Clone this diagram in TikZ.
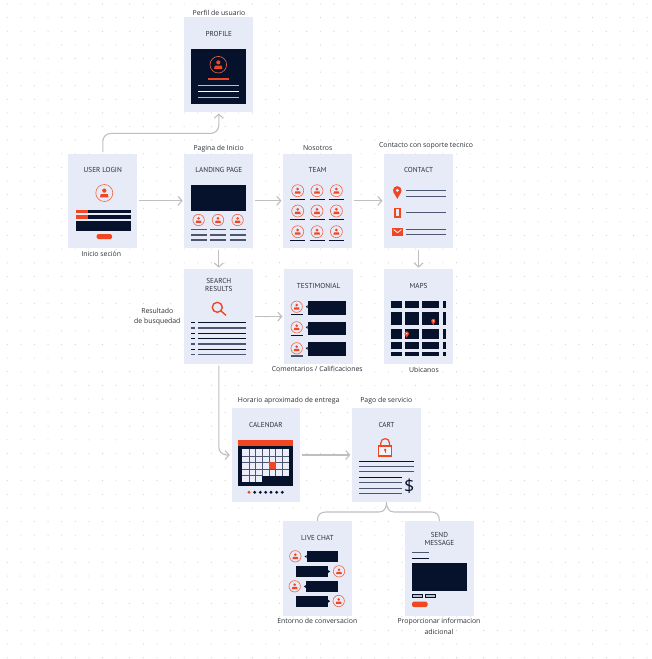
\documentclass[tikz,border=0pt]{standalone}
\usepackage{fontspec}
\setmainfont{Open Sans}
\newfontfamily\titlefont{PT Sans}
\usetikzlibrary{arrows.meta}
\definecolor{cardblue}{HTML}{E7EBF8}
\definecolor{ink}{HTML}{06122B}
\definecolor{accent}{HTML}{F04722}
\definecolor{slate}{HTML}{4D5670}
\definecolor{linkgray}{HTML}{BFBFC1}
\definecolor{griddot}{HTML}{CDCDCD}
\definecolor{labeltext}{HTML}{2E3038}
\tikzset{
  card/.style={fill=cardblue, minimum width=68.8pt, minimum height=94.4pt, inner sep=0pt},
  cardtitle/.style={text=labeltext, align=center, inner sep=0pt, font=\titlefont\fontsize{7.2}{7.8}\selectfont},
  caption/.style={text=labeltext, align=center, inner sep=0pt, font=\fontsize{6.9}{10.2}\selectfont},
  link/.style={draw=linkgray, line width=1.1pt, shorten <=1.5pt, shorten >=1.5pt,
    -{Straight Barb[length=4pt,width=9pt]}},
  bracelink/.style={draw=linkgray, line width=1.1pt},
  inkline/.style={draw=ink, line width=1pt},
  slateline/.style={draw=slate, line width=1.1pt},
  calgrid/.style={draw=slate, line width=.55pt},
  avatar/.pic={
    \draw[accent!85!white, line width=.6pt] (0,0) circle (#1);
    \fill[accent] (0,-.28*#1) circle (.25*#1);
    \fill[accent] (-.5*#1,.5*#1) -- (-.42*#1,.12*#1) -- (.42*#1,.12*#1) -- (.5*#1,.5*#1) -- cycle;
  },
  pin/.pic={
    \fill[accent] (0,-.35) circle (.68);
    \fill[accent] (-.64,-.12) .. controls (-.3,.4) .. (0,1) .. controls (.3,.4) .. (.64,-.12) -- cycle;
    \fill[cardblue] (0,-.35) circle (.26);
  }
}

\begin{document}
\begin{tikzpicture}[x=1pt,y=-1pt]
  \useasboundingbox (0,0) rectangle (652,659);
  \foreach \i in {0,...,47}
    \foreach \j in {0,...,48}
      \fill[griddot] (7.2+13.615*\i,4+13.62*\j) circle (.55);

  \node[card] (profile) at (218.8,64.6) {};
  \node[card] (login) at (102.8,200.8) {};
  \node[card] (landing) at (218.8,200.8) {};
  \node[card] (team) at (317.6,200.8) {};
  \node[card] (contact) at (418.6,200.8) {};
  \node[card] (search) at (218.8,316.6) {};
  \node[card] (testimonial) at (318.6,316.6) {};
  \node[card] (maps) at (418.6,316.6) {};
  \node[card] (calendar) at (265.9,455) {};
  \node[card] (cart) at (386.5,455) {};
  \node[card] (chat) at (317.4,568.3) {};
  \node[card] (send) at (439.4,568.3) {};

  \node[cardtitle] (profiletitle) at (218.8,34.3) {PROFILE};
  \node[cardtitle] (logintitle) at (102.8,170.3) {USER LOGIN};
  \node[cardtitle] (landingtitle) at (218.8,170.3) {LANDING PAGE};
  \node[cardtitle] (teamtitle) at (317.6,170.3) {TEAM};
  \node[cardtitle] (contacttitle) at (418.6,170.3) {CONTACT};
  \node[cardtitle] (searchtitle) at (218.8,285.2) {SEARCH\\RESULTS};
  \node[cardtitle] (testimonialtitle) at (318.6,286.3) {TESTIMONIAL};
  \node[cardtitle] (mapstitle) at (418.6,286) {MAPS};
  \node[cardtitle] (calendartitle) at (265.9,425) {CALENDAR};
  \node[cardtitle] (carttitle) at (386.5,425) {CART};
  \node[cardtitle] (chattitle) at (317.4,538.3) {LIVE CHAT};
  \node[cardtitle] (sendtitle) at (439.4,539) {SEND\\MESSAGE};

  \node[caption] (profilecap) at (219,12.5) {Perfil de usuario};
  \node[caption] (landingcap) at (218.7,148.5) {Pagina de Inicio};
  \node[caption] (teamcap) at (317.7,148.5) {Nosotros};
  \node[caption] (contactcap) at (426,146) {Contacto con soporte tecnico};
  \node[caption] (logincap) at (101.3,253.5) {Inicio seción};
  \node[caption] (searchcap) at (157.3,316.8) {Resultado\\de busquedad};
  \node[caption] (testimonialcap) at (317.3,369.3) {Comentarios / Calificaciones};
  \node[caption] (mapscap) at (424,370) {Ubicanos};
  \node[caption] (calendarcap) at (288.7,400.5) {Horario aproximado de entrega};
  \node[caption] (cartcap) at (386.3,400.5) {Pago de servicio};
  \node[caption] (chatcap) at (317.3,621.3) {Entorno de conversacion};
  \node[caption] (sendcap) at (439,626.3) {Proporcionar informacion\\adicional};

  \draw[link, rounded corners=8pt] (login.north) -- ++(0,-20) -| (profile.south);
  \draw[link] (login) -- (landing);
  \draw[link] (landing) -- (team);
  \draw[link] (team) -- (contact);
  \draw[link] (contact) -- (maps);
  \draw[link] (landing) -- (search);
  \draw[link] (search) -- (testimonial);
  \draw[link, rounded corners=8pt] (search.south) |- (calendar.west);
  \draw[link] (calendar) -- (cart);
  \draw[bracelink] (cart.south) .. controls (386.5,507) and (385,512) .. (379,512)
    -- (326,512) .. controls (320.5,512) and (317.4,514.5) .. (chat.north);
  \draw[bracelink] (cart.south) .. controls (386.5,507) and (388,512) .. (394,512)
    -- (431,512) .. controls (436.5,512) and (439.4,514.5) .. (send.north);

  \fill[ink] (191,49.3) rectangle (246,104);
  \pic at (218.3,64.7) {avatar=8.3};
  \draw[accent, line width=1.4pt] (208,79) -- (229,79);
  \draw[cardblue!70!slate, line width=1pt] (198,85.7) -- (239,85.7);
  \draw[white, line width=1pt] (198,91.3) -- (239,91.3);
  \draw[cardblue!70!slate, line width=1pt] (198,97) -- (239,97);

  \pic at (104.3,193) {avatar=8.5};
  \foreach \y in {209.6,215.3}{
    \fill[ink] (76,\y) rectangle (130.7,\y+3.8);
    \fill[accent] (76,\y) rectangle (87.7,\y+3.8);
  }
  \fill[ink] (76,221) rectangle (130.7,231.3);
  \fill[accent, rounded corners=1.5pt] (96.7,234) rectangle (112,239);

  \fill[ink] (191,185) rectangle (246,210.7);
  \foreach \x in {191,210.4,230}{
    \pic at (\x+7.6,220) {avatar=5.7};
    \foreach \y in {229.7,235,240}
      \draw[slateline] (\x,\y) -- (\x+15.5,\y);
  }

  \foreach \x in {297.7,317,336.4}
    \foreach \y/\lineY in {190.7/199.3,211/219.3,231.7/240}{
      \pic at (\x,\y) {avatar=6};
      \draw[inkline] (\x-7.5,\lineY) -- (\x+7.5,\lineY);
    }

  \pic[scale=6.3] at (397.3,192.6) {pin};
  \fill[accent] (394.3,207.7) rectangle (400.7,217.7);
  \fill[cardblue] (395.7,209.3) rectangle (399.3,216);
  \fill[accent] (392.3,228.3) rectangle (402.7,235.7);
  \draw[cardblue, line width=.9pt] (393.6,229.6) -- (397.5,232.6) -- (401.4,229.6);
  \foreach \y in {190.7,196.3,212.3,229.3,234.3}
    \draw[slateline] (406.3,\y) -- (446,\y);

  \foreach \x/\w in {391.3/10.4,405/13.7,422/17.3,442.7/3.3}
    \foreach \y/\h in {301/7,311.7/13.3,328.7/10,342.3/6.7,352.3/3.7}
      \fill[ink] (\x,\y) rectangle (\x+\w,\y+\h);
  \pic[scale=3.1] at (433.3,322) {pin};
  \pic[scale=3.1] at (406.7,334.6) {pin};

  \draw[accent, line width=1.4pt] (217.3,307.3) circle (5);
  \draw[accent, line width=1.4pt] (220.9,310.9) -- (226,315.3);
  \foreach \y/\lineStyle in {322.7/inkline,328/slateline,333/inkline,338.7/inkline,344/slateline,349.3/inkline,354.7/slateline}{
    \draw[\lineStyle] (191,\y) -- (195,\y);
    \draw[\lineStyle] (198.3,\y) -- (246,\y);
  }

  \foreach \y/\top/\bottom in {306.7/301.3/314.7,327.3/322/335.3,348.3/342.3/356.3}{
    \pic at (296.7,\y) {avatar=5.7};
    \fill[ink] (307.7,\top) rectangle (345.7,\bottom);
    \fill[ink] (307.7,\y-1.6) -- (305.8,\y) -- (307.7,\y+1.6) -- cycle;
  }
  \draw[inkline] (291,314.3) -- (303.3,314.3);
  \draw[inkline] (291,335.3) -- (303.3,335.3);
  \draw[slateline] (291,356) -- (303.3,356);

  \fill[accent] (238.3,439.7) rectangle (293,446);
  \fill[ink] (238.3,446) rectangle (293,486);
  \fill[cardblue!80!white] (242.3,449.3) rectangle (289,475.6);
  \fill[cardblue!80!white] (242.3,475.6) rectangle (262.3,482);
  \foreach \col in {1,...,6}
    \draw[calgrid] (242.3+6.67*\col,449.3) -- (242.3+6.67*\col,475.6);
  \foreach \col in {1,2}
    \draw[calgrid] (242.3+6.67*\col,475.6) -- (242.3+6.67*\col,482);
  \foreach \row in {1,2,3}
    \draw[calgrid] (242.3,449.3+6.56*\row) -- (289,449.3+6.56*\row);
  \draw[calgrid] (242.3,475.6) -- (262.3,475.6);
  \fill[accent] (269,462.4) rectangle (275.7,469);
  \fill[accent] (249,492.3) circle (1.6);
  \foreach \x in {254.7,260.3,265.7,271,276.7,282.3}
    \fill[ink] (\x,492.3) circle (1.6);

  \draw[accent, line width=1.2pt] (380.8,446) -- (380.8,443) .. controls (380.8,437.2) and (389.5,437.2) .. (389.5,443) -- (389.5,446);
  \draw[accent, fill=cardblue!50!white, line width=1.2pt] (378.5,446) rectangle (391.8,456);
  \fill[accent] (385.1,449.8) circle (1.4);
  \fill[accent] (384.5,450) rectangle (385.7,453.4);
  \foreach \y/\lineStyle in {461.3/inkline,466.7/slateline,471.7/slateline}
    \draw[\lineStyle] (359,\y) -- (414,\y);
  \foreach \y/\lineStyle in {477.3/inkline,482.7/slateline,488.3/slateline,493.7/slateline}
    \draw[\lineStyle] (359,\y) -- (402,\y);
  \node[text=ink, inner sep=0pt, font=\fontsize{18}{18}\selectfont] (dollar) at (409.3,485.7) {\$};

  \foreach \x/\y in {295.3/556.3,339/571.3,294.7/586.3,338.7/601}
    \pic at (\x,\y) {avatar=5.7};
  \foreach \x/\w/\y in {306.7/31.6/551,296/32/566,306/32.3/581,296/32/595.7}
    \fill[ink] (\x,\y) rectangle (\x+\w,\y+11);
  \fill[ink] (306.7,555) -- (304.6,556.5) -- (306.7,558) -- cycle;
  \fill[ink] (328,570) -- (330.1,571.5) -- (328,573) -- cycle;
  \fill[ink] (306,585) -- (303.9,586.5) -- (306,588) -- cycle;
  \fill[ink] (328,599.7) -- (330.1,601.2) -- (328,602.7) -- cycle;

  \draw[slateline] (412,552.7) -- (429.3,552.7);
  \draw[inkline] (412,558.3) -- (429,558.3);
  \fill[ink] (412,563.3) rectangle (467,591);
  \foreach \x in {412,425}
    \draw[ink, fill=cardblue!70!slate, line width=.5pt] (\x,593.9) rectangle (\x+10,597);
  \fill[accent, rounded corners=1.5pt] (412,601.7) rectangle (427.7,607);
\end{tikzpicture}
\end{document}
